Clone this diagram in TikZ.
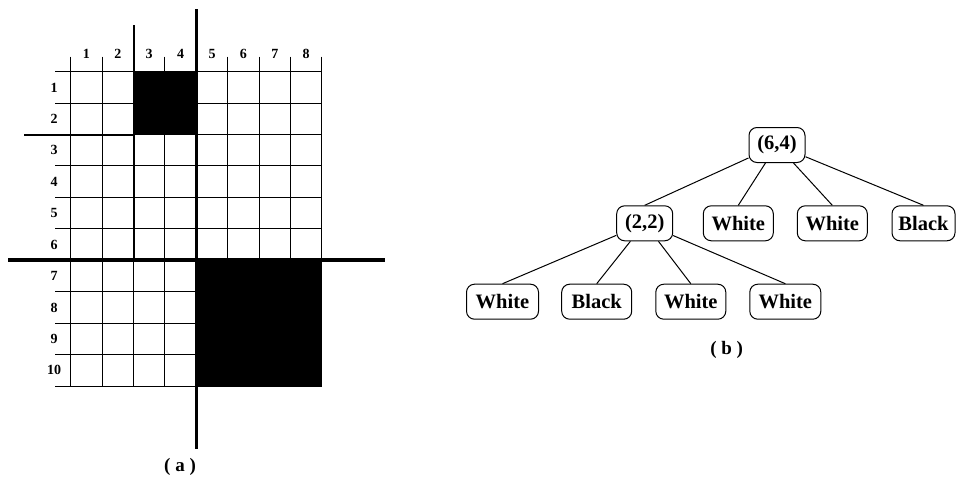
\documentclass[tikz,border=0pt]{standalone}
\usepackage{fontspec}
\setmainfont{Liberation Serif}
\begin{document}
\begin{tikzpicture}[x=1pt,y=-1pt,
  tnode/.style={draw, rounded corners=8pt, line width=1pt, minimum height=35pt, inner sep=0pt, font=\fontsize{20.5}{24}\selectfont\bfseries},
  lbl/.style={font=\fontsize{14}{16}\selectfont\bfseries, inner sep=0pt},
  capt/.style={font=\fontsize{19}{22}\selectfont\bfseries, inner sep=0pt},
  gridline/.style={line width=1pt},
  midline/.style={line width=2pt},
  thickline/.style={line width=3.5pt},
  edge/.style={line width=1pt}]
\useasboundingbox (0,0) rectangle (956,482);
% grid
\foreach \i in {0,...,8}{
  \draw[gridline] ({70.7+31.4*\i},56.7) -- ({70.7+31.4*\i},386);
}
\foreach \j in {0,...,10}{
  \draw[gridline] (55,{71.7+31.43*\j}) -- (321.9,{71.7+31.43*\j});
}
\fill (133.5,71.7) rectangle (196.3,134.5);
\fill (196.3,260.2) rectangle (321.9,386);
\draw[midline] (133.5,25) -- (133.5,260.2);
\draw[midline] (24,134.5) -- (133.5,134.5);
\draw[thickline] (196.3,9.3) -- (196.3,449.3);
\draw[thickline] (8.3,260.2) -- (385,260.2);
\foreach \i in {1,...,8}{
  \node[lbl] (col\i) at ({70.7+31.4*\i-15.7},53.5) {\i};
}
\foreach \j in {1,...,10}{
  \node[lbl] (row\j) at (54,{71.7+31.43*\j-15.7}) {\j};
}
\node[capt] (capa) at (180,466.7) {( a )};
% tree
\node[tnode, minimum width=56pt] (root) at (777,145) {(6,4)};
\node[tnode, minimum width=56pt] (n22) at (644.7,223.3) {(2,2)};
\node[tnode, minimum width=70pt] (w1) at (738.3,223.3) {White};
\node[tnode, minimum width=70pt] (w2) at (832.3,223.3) {White};
\node[tnode, minimum width=63pt] (b1) at (923.5,223.3) {Black};
\node[tnode, minimum width=72pt] (c1) at (502.5,301.7) {White};
\node[tnode, minimum width=70pt] (c2) at (596.7,301.7) {Black};
\node[tnode, minimum width=70pt] (c3) at (690.8,301.7) {White};
\node[tnode, minimum width=71pt] (c4) at (785.3,301.7) {White};
\foreach \c in {n22,w1,w2,b1}{
  \draw[edge] (root) -- (\c.north);
}
\foreach \c in {c1,c2,c3,c4}{
  \draw[edge] (n22) -- (\c.north);
}
\node[capt] (capb) at (726.7,350) {( b )};
\end{tikzpicture}
\end{document}
